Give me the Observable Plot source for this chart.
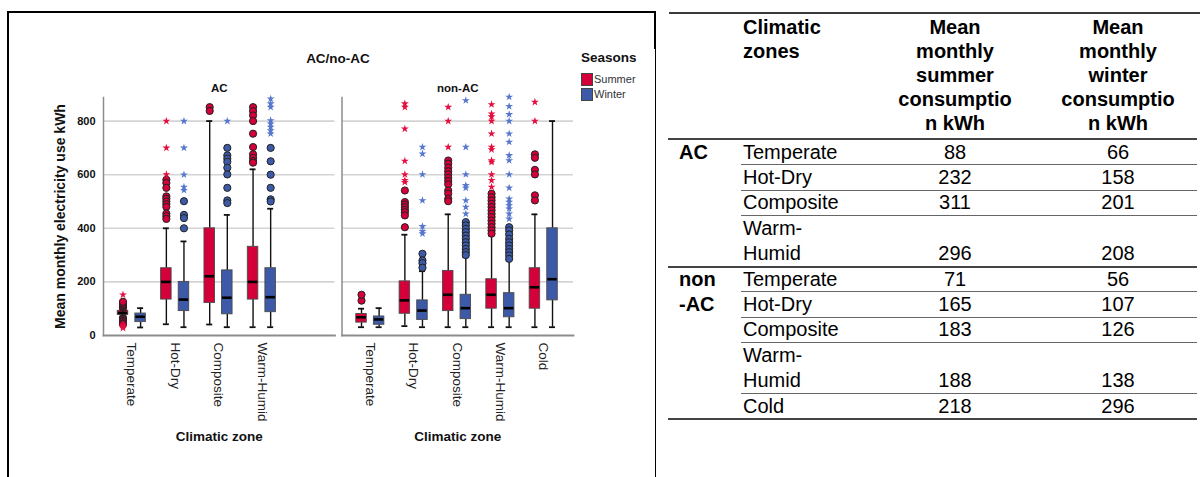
<!DOCTYPE html>
<html><head><meta charset="utf-8">
<script src="https://cdn.jsdelivr.net/npm/d3@7"></script>
<script src="https://cdn.jsdelivr.net/npm/@observablehq/plot@0.6"></script>
<style>
html,body{margin:0;padding:0;background:#fff;}
body{width:1203px;height:477px;position:relative;overflow:hidden;font-family:"Liberation Sans",Arial,sans-serif;color:#000;}
#chart{position:absolute;left:0;top:0;}
.ln{position:absolute;}
.t{position:absolute;white-space:pre-line;}
</style></head><body>
<div id="chart"></div>
<div id="deco"></div>
<div id="table"></div>
<script>
// ---------------- data ----------------
const facets = ["AC", "non-AC"];
const zones = ["Temperate", "Hot-Dry", "Composite", "Warm-Humid", "Cold"];
const seasons = ["Summer", "Winter"];
const zoneTicksAC = ["Temperate", "Hot-Dry", "Composite", "Warm-Humid"];
const zoneTicksNonAC = ["Temperate", "Hot-Dry", "Composite", "Warm-Humid", "Cold"];
const yTicks = [0, 200, 400, 600, 800];
const gridTicks = [200, 400, 600, 800];

const boxFacet = ["AC","AC","AC","AC","AC","AC","AC","AC",
  "non-AC","non-AC","non-AC","non-AC","non-AC","non-AC","non-AC","non-AC","non-AC","non-AC"];
const boxZone = ["Temperate","Temperate","Hot-Dry","Hot-Dry","Composite","Composite","Warm-Humid","Warm-Humid",
  "Temperate","Temperate","Hot-Dry","Hot-Dry","Composite","Composite","Warm-Humid","Warm-Humid","Cold","Cold"];
const boxSeason = ["Summer","Winter","Summer","Winter","Summer","Winter","Summer","Winter",
  "Summer","Winter","Summer","Winter","Summer","Winter","Summer","Winter","Summer","Winter"];
const q1 =          [77, 50, 134, 91, 121, 79, 134, 87,   48, 40, 81, 58, 91, 61, 100, 68, 100, 131];
const median =      [84, 70, 200, 134, 221, 141, 200, 143, 68, 60, 131, 93, 152, 102, 152, 102, 180, 210];
const q3 =          [92, 82, 251, 200, 400, 243, 331, 251, 80, 71, 202, 131, 241, 152, 210, 158, 251, 400];
const whiskerLow =  [70, 30, 42, 31, 41, 31, 31, 31,     31, 31, 35, 31, 31, 31, 31, 31, 31, 31];
const whiskerHigh = [98, 102, 400, 351, 800, 450, 620, 473, 100, 102, 376, 240, 452, 292, 373, 280, 452, 800];
const outliers = [
  [102, 106, 110, 114, 118, 122, 126, 66, 62, 58, 54, 50, 46, 42],
  [],
  [581, 569, 551, 519, 510, 500, 490, 480, 455, 445, 435],
  [501, 450, 438, 400],
  [852, 838],
  [700, 672, 660, 648, 626, 601, 551, 504, 494],
  [852, 837, 821, 800, 753, 703, 676, 663, 651, 645],
  [700, 650, 600, 551, 508, 500],
  [130, 152],
  [],
  [541, 498, 489, 479, 469, 460, 448, 404],
  [305, 280, 270, 253],
  [653, 641, 626, 613, 601, 588, 576, 564, 541, 529, 510, 501],
  [423, 411, 398, 386, 373, 361, 348, 336, 323, 311, 300],
  [529, 516, 504, 491, 479, 467, 454, 442, 429, 417, 404, 392, 380],
  [404, 392, 377, 361, 348, 336, 323, 311, 299, 286],
  [676, 663, 618, 601, 523, 504],
  []
];
const extremes = [
  [152, 36, 32, 28],
  [],
  [800, 700, 601],
  [800, 700, 600, 554, 542],
  [],
  [800],
  [],
  [883, 865, 852, 802, 790, 778, 765, 753],
  [],
  [],
  [865, 852, 771, 651, 601, 579, 572],
  [703, 678, 601, 504, 407, 389, 380],
  [852, 800, 703],
  [877, 703, 601, 560, 551, 504, 479, 454],
  [862, 827, 817, 800, 753, 703, 694, 653, 647, 601, 579, 554],
  [890, 855, 825, 800, 753, 722, 672, 653, 601, 551, 510, 498, 485, 473, 454, 435],
  [871, 800],
  []
];

// table data
const tableGroups = ["AC", "non-AC"];
const tableGroupLabel = ["AC", "non\n-AC"];
const tableGroup = ["AC","AC","AC","AC","non-AC","non-AC","non-AC","non-AC","non-AC"];
const tableZones = ["Temperate","Hot-Dry","Composite","Warm-Humid","Temperate","Hot-Dry","Composite","Warm-Humid","Cold"];
const summerMean = [88, 232, 311, 296, 71, 165, 183, 188, 218];
const winterMean = [66, 158, 201, 208, 56, 107, 126, 138, 296];
const tableHeaders = ["Climatic\nzones", "Mean\nmonthly\nsummer\nconsumptio\nn kWh", "Mean\nmonthly\nwinter\nconsumptio\nn kWh"];

// ---------------- styles / layout ----------------
const FONT = '"Liberation Sans", Arial, sans-serif';
const boxFill = {Summer: "#d3003a", Winter: "#3d5aa8"};
const starFill = {Summer: "#e3103f", Winter: "#5677cc"};
const W = 655, H = 477, mL = 103, mR = 82, mT = 97, mB = 142;
const fxPadInner = 0.0294, xPadOuter = 0.17;
const fxStep = (W - mL - mR) / (2 - fxPadInner);
const facetW = fxStep * (1 - fxPadInner);
const xStep = facetW / (zones.length + 2 * xPadOuter);
const boxW = 10.5, capW = 6, offset = 8.8;
const boxInset = (xStep - boxW) / 2;
const capInset = (xStep - capW) / 2;

const groups = boxFacet.map((f, i) => ({
  facet: f, zone: boxZone[i], season: boxSeason[i],
  q1: q1[i], median: median[i], q3: q3[i], lo: whiskerLow[i], hi: whiskerHigh[i]
}));
const outRows = groups.flatMap((g, i) => outliers[i].map(v => ({...g, value: v})));
const extRows = groups.flatMap((g, i) => extremes[i].map(v => ({...g, value: v})));
const tickRows = [
  ...zoneTicksAC.map(z => ({facet: "AC", zone: z})),
  ...zoneTicksNonAC.map(z => ({facet: "non-AC", zone: z}))
];

const seasonMarks = seasons.flatMap(s => {
  const dx = s === "Summer" ? -offset : offset;
  const g = groups.filter(d => d.season === s);
  const o = outRows.filter(d => d.season === s);
  const e = extRows.filter(d => d.season === s);
  const common = {fx: "facet", x: "zone", dx};
  return [
    Plot.ruleX(g, {...common, y1: "lo", y2: "q1", stroke: "#111", strokeWidth: 1.4}),
    Plot.ruleX(g, {...common, y1: "q3", y2: "hi", stroke: "#111", strokeWidth: 1.4}),
    Plot.tickY(g, {...common, y: "lo", insetLeft: capInset, insetRight: capInset, stroke: "#111", strokeWidth: 1.8}),
    Plot.tickY(g, {...common, y: "hi", insetLeft: capInset, insetRight: capInset, stroke: "#111", strokeWidth: 1.8}),
    Plot.barY(g, {...common, y1: "q1", y2: "q3", fill: boxFill[s], stroke: "#4a4a4a", strokeWidth: 0.9,
      insetLeft: boxInset, insetRight: boxInset}),
    Plot.tickY(g, {...common, y: "median", insetLeft: boxInset + 0.5, insetRight: boxInset + 0.5, stroke: "#000", strokeWidth: 2.6}),
    Plot.dot(o, {...common, y: "value", r: 3.6, fill: boxFill[s], stroke: "#222", strokeWidth: 1}),
    Plot.dot(e, {...common, y: "value", r: 2.5, symbol: "star", fill: starFill[s], stroke: "none"})
  ];
});

const chart = Plot.plot({
  width: W, height: H,
  marginLeft: mL, marginRight: mR, marginTop: mT, marginBottom: mB,
  style: {fontFamily: FONT, background: "transparent", overflow: "visible"},
  fx: {domain: facets, paddingInner: fxPadInner, paddingOuter: 0, round: false, label: null},
  x: {domain: zones, paddingInner: 0, paddingOuter: xPadOuter, align: 0.45, round: false, axis: null},
  y: {domain: [0, 888], label: null},
  marks: [
    Plot.gridY({ticks: gridTicks, stroke: "#d4d4d4", strokeOpacity: 1, strokeWidth: 1.6}),
    Plot.frame({anchor: "left", stroke: "#8c8c8c", strokeWidth: 1.5}),
    Plot.frame({anchor: "bottom", stroke: "#8c8c8c", strokeWidth: 1.8}),
    Plot.axisY({ticks: yTicks, tickSize: 0, tickPadding: 8, fontWeight: "bold", fontSize: 11, label: null, fill: "#111"}),
    Plot.axisFx({anchor: "top", tickSize: 0, tickPadding: 6, fontWeight: "bold", fontSize: 11.5, label: null, fill: "#111"}),
    Plot.text(tickRows, {fx: "facet", x: "zone", text: "zone", frameAnchor: "bottom", rotate: 90,
      textAnchor: "start", lineAnchor: "middle", dy: 7, fontSize: 13.5, fill: "#222"}),
    Plot.text(facets, {fx: d => d, text: () => "Climatic zone", frameAnchor: "bottom", dy: 105,
      fontWeight: "bold", fontSize: 13.5, fill: "#111"}),
    Plot.text([facets[0]], {fx: d => d, text: () => "Mean monthly electricity use kWh", frameAnchor: "left",
      textAnchor: "middle", lineAnchor: "middle", dx: -43, rotate: -90, fontWeight: "bold", fontSize: 14, fill: "#111"}),
    ...seasonMarks
  ]
});
document.getElementById("chart").appendChild(chart);

// ---------------- decorations: title, legend, borders ----------------
const deco = document.getElementById("deco");
function box(l, t, w, h, bg, extra = "") {
  const d = document.createElement("div");
  d.className = "ln";
  d.style.cssText = `left:${l}px;top:${t}px;width:${w}px;height:${h}px;background:${bg};${extra}`;
  deco.appendChild(d);
  return d;
}
function txt(parent, s, css) {
  const d = document.createElement("div");
  d.className = "t";
  d.textContent = s;
  d.style.cssText = css;
  parent.appendChild(d);
  return d;
}
// frame lines
box(7, 11, 649, 2, "#000");
box(7, 11, 2, 466, "#000");
box(654, 11, 2, 38, "#000");
box(655, 49, 1, 428, "#000");
box(669, 12, 531, 2, "#3a3a3a");
// title
txt(deco, "AC/no-AC", `left:338px;top:58px;transform:translate(-50%,-50%);font-weight:bold;font-size:13.5px;color:#111;`);
// legend
txt(deco, "Seasons", `left:581px;top:57px;transform:translateY(-50%);font-weight:bold;font-size:13.5px;color:#111;`);
seasons.forEach((s, i) => {
  const y = 73 + i * 15;
  box(581, y, 10, 11, boxFill[s], "border:1px solid #444;");
  txt(deco, s, `left:594px;top:${y + 6}px;transform:translateY(-50%);font-size:11px;color:#333;`);
});

// ---------------- table ----------------
const tb = document.getElementById("table");
const TF = 20, pitch = 25.4, rowTop0 = 139.5;
const colZone = 743, colSummer = 955, colWinter = 1118, lineRight = 1197;
function tline(l, t, w, h, bg) {
  const d = document.createElement("div");
  d.className = "ln";
  d.style.cssText = `left:${l}px;top:${t}px;width:${w}px;height:${h}px;background:${bg};`;
  tb.appendChild(d);
}
// header
const hdrCss = `top:15px;font-weight:bold;font-size:${TF}px;line-height:24px;`;
txt(tb, tableHeaders[0], hdrCss + `left:${colZone}px;`);
txt(tb, tableHeaders[1], hdrCss + `left:${colSummer - 80}px;width:160px;text-align:center;`);
txt(tb, tableHeaders[2], hdrCss + `left:${colWinter - 80}px;width:160px;text-align:center;`);
tline(668, 138, lineRight - 668, 2, "#444");
// rows
let y = rowTop0;
tableZones.forEach((z, i) => {
  const label = z === "Warm-Humid" ? "Warm-\nHumid" : z;
  const nLines = label.split("\n").length;
  const rowCss = `font-size:${TF}px;line-height:${pitch}px;`;
  txt(tb, label, rowCss + `left:${colZone}px;top:${y}px;`);
  const numTop = y + (nLines - 1) * pitch;
  txt(tb, String(summerMean[i]), rowCss + `left:${colSummer - 60}px;width:120px;text-align:center;top:${numTop}px;`);
  txt(tb, String(winterMean[i]), rowCss + `left:${colWinter - 60}px;width:120px;text-align:center;top:${numTop}px;`);
  const gi = tableGroups.indexOf(tableGroup[i]);
  if (i === 0 || tableGroup[i] !== tableGroup[i - 1]) {
    txt(tb, tableGroupLabel[gi], rowCss + `left:679px;top:${y}px;font-weight:bold;`);
  }
  y += nLines * pitch;
  const lastOfGroup = i === tableZones.length - 1 || tableGroup[i + 1] !== tableGroup[i];
  if (lastOfGroup) tline(668, y - 1, lineRight - 668, 2, "#444");
  else tline(741, y - 0.5, lineRight - 741, 1, "#666");
});
</script>
</body></html>
